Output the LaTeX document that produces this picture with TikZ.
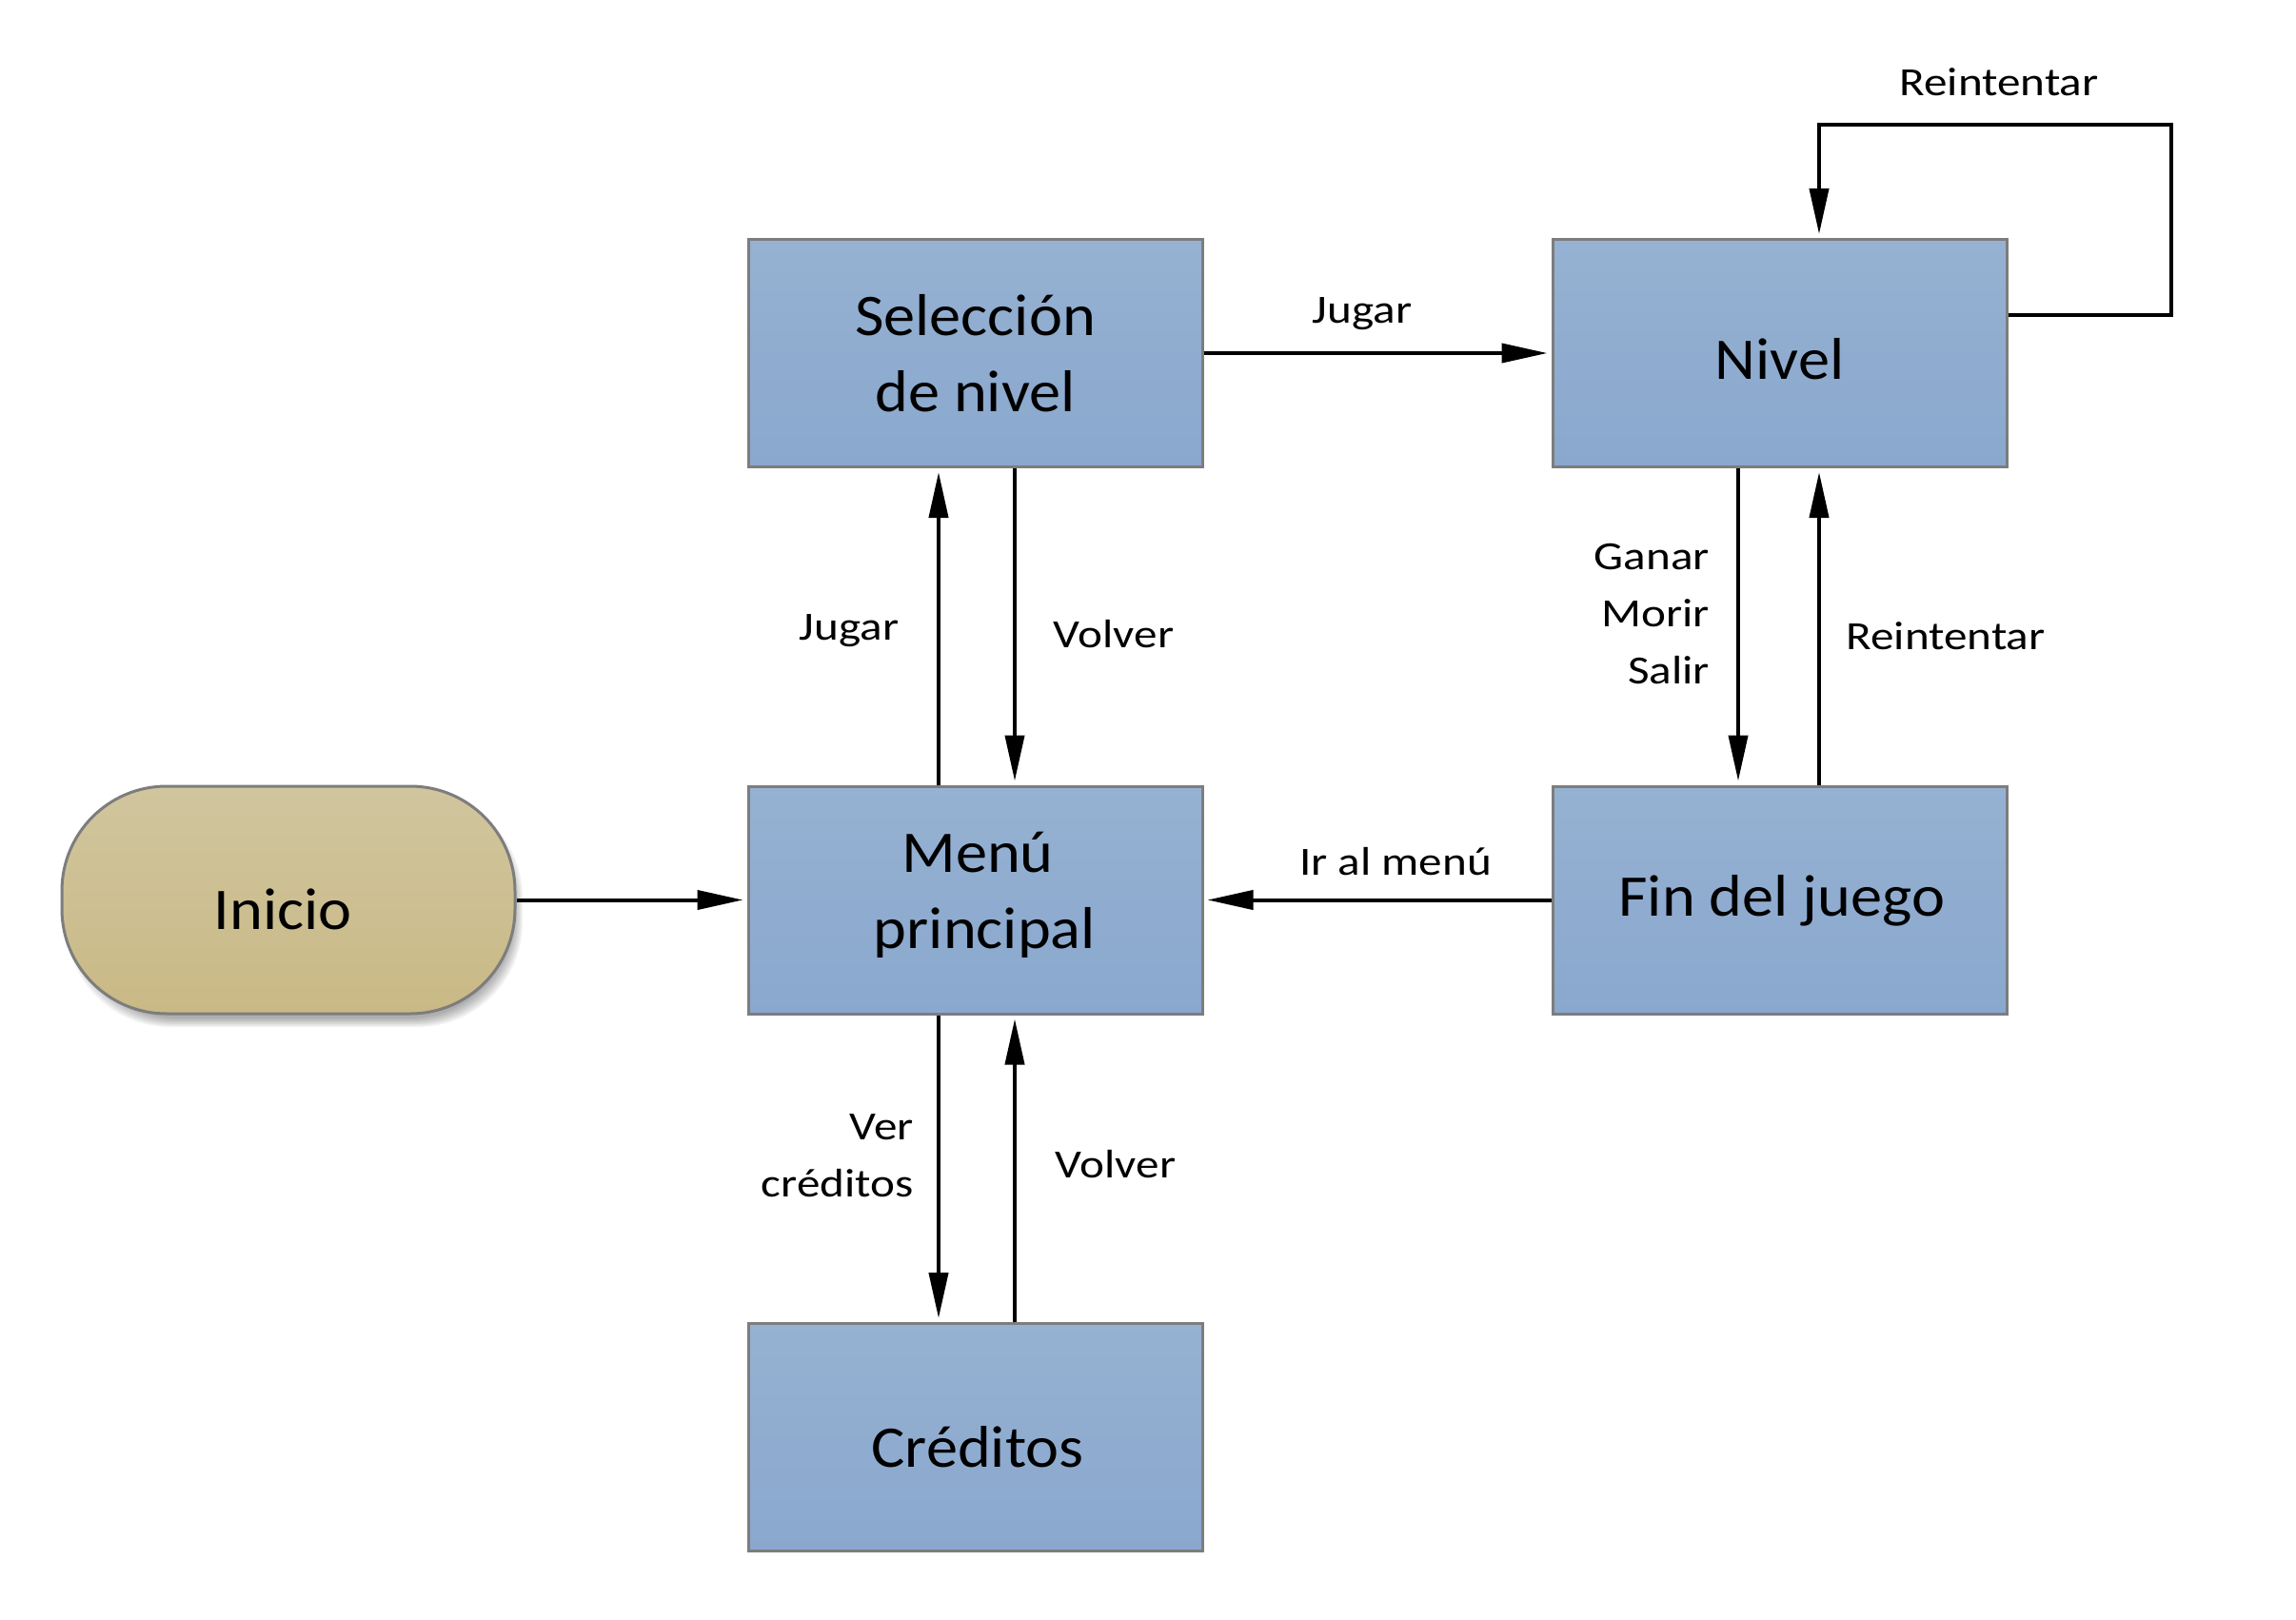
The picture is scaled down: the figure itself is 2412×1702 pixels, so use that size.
\documentclass[tikz,border=0pt]{standalone}
\usepackage{fontspec}
\setmainfont{Carlito}
\newfontfamily\lblfont[FakeStretch=1.17]{Carlito}
\newfontfamily\boxfont[FakeStretch=1.07]{Carlito}
\usetikzlibrary{arrows.meta}
\definecolor{boxtop}{RGB}{149,178,210}
\definecolor{boxbot}{RGB}{138,167,206}
\definecolor{initop}{RGB}{208,197,158}
\definecolor{inibot}{RGB}{201,185,133}
\definecolor{bord}{RGB}{125,125,125}
\tikzset{
  stbox/.style={rectangle, draw=bord, line width=3pt, top color=boxtop, bottom color=boxbot,
    minimum width=477pt, minimum height=239pt, inner sep=0pt},
  startnode/.style={rectangle, rounded corners=110pt, draw=bord, line width=3pt,
    top color=initop, bottom color=inibot, minimum width=476pt, minimum height=239pt},
  shadowlayer/.style={rectangle, rounded corners=110pt, fill=black, opacity=0.05},
  arr/.style={line width=4pt, -{Triangle[length=48pt,width=20pt]}, shorten >=4pt},
  lbl/.style={font=\lblfont\fontsize{42}{60}\selectfont, inner sep=0pt},
  txt/.style={inner sep=0pt, align=center, font=\boxfont\fontsize{62}{80}\selectfont}
}
\begin{document}
\begin{tikzpicture}[x=1pt,y=-1pt]
\useasboundingbox (0,0) rectangle (2412,1702);
\fill[white] (0,0) rectangle (2412,1702);
% soft shadow of Inicio
\foreach \s in {0,3,6,9,12,15,18}{
  \node[shadowlayer, minimum width={462pt+\s pt}, minimum height={228pt+\s pt}] at (309,956) {};
}
% nodes
\node[stbox] (sel) at (1024.5,371) {};
\node[stbox] (niv) at (1869.5,371) {};
\node[stbox] (menu) at (1024.5,945.5) {};
\node[stbox] (fin) at (1869.5,945.5) {};
\node[stbox] (cred) at (1024.5,1510) {};
\node[startnode] (ini) at (303,945.5) {};
% box texts
\node[txt] (tsel) at (1024.5,371) {Selección\\de nivel};
\node[txt] (tniv) at (1869.5,377) {Nivel};
\node[txt] (tmenu) at (1027,940) {Menú\\\ principal};
\node[txt] (tfin) at (1872,946) {Fin del juego};
\node[txt] (tcred) at (1027,1520) {Créditos};
\node[txt] (tini) at (297,955) {Inicio};
% helper coordinates
\coordinate (xl) at (986,0);
\coordinate (xr) at (1066,0);
\coordinate (xf1) at (1826,0);
\coordinate (xf2) at (1911,0);
\coordinate (lc1) at (2281,331);
\coordinate (lc2) at (2281,131);
\coordinate (lc3) at (1911,131);
% connectors
\draw[arr] (ini.east) -- (menu.west);
\draw[arr] (sel.east) -- (niv.west);
\draw[arr] (menu.north -| xl) -- (sel.south -| xl);
\draw[arr] (sel.south -| xr) -- (menu.north -| xr);
\draw[arr] (menu.south -| xl) -- (cred.north -| xl);
\draw[arr] (cred.north -| xr) -- (menu.south -| xr);
\draw[arr] (niv.south -| xf1) -- (fin.north -| xf1);
\draw[arr] (fin.north -| xf2) -- (niv.south -| xf2);
\draw[arr] (fin.west) -- (menu.east);
\draw[arr] (niv.east |- lc1) -- (lc1) -- (lc2) -- (lc3) -- (niv.north -| lc3);
% labels
\node[lbl] (l1) at (1431,330) {Jugar};
\node[lbl] (l2) at (892,663) {Jugar};
\node[lbl] (l3) at (1170,666) {Volver};
\node[lbl, align=right, anchor=east] (l4) at (960,1214) {Ver\\créditos};
\node[lbl] (l5) at (1172,1223) {Volver};
\node[lbl, align=right, anchor=east] (l6) at (1796,645) {Ganar\\Morir\\Salir};
\node[lbl] (l7) at (2044,668) {Reintentar};
\node[lbl] (l8) at (1466,905) {Ir al menú};
\node[lbl] (l9) at (2100,86) {Reintentar};
\end{tikzpicture}
\end{document}
